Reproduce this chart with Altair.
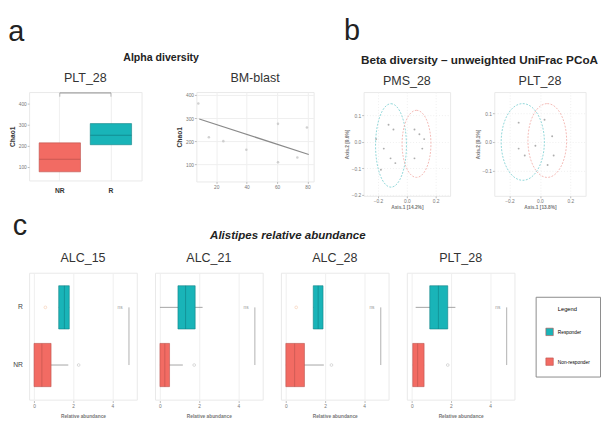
import altair as alt
import pandas as pd

FONT = "Liberation Sans"
TEAL, TEAL_D = "#19B4B8", "#0F7F83"
RED, RED_D = "#F26B63", "#B9514B"
INK = "#222222"

# ---------------- a : alpha diversity ----------------
a_groups = ["NR", "R"]
a_q1 = [77, 205]
a_med = [136, 250]
a_q3 = [214, 305]
a_bracket = [450, 432]

bm_blast = [8.3, 15.2, 24.7, 39.8, 60.6, 73.3, 79.6, 60.6]
bm_chao1 = [363, 217, 200, 163, 275, 129, 259, 108]
fit_blast = [8.9, 80.8]
fit_chao1 = [296, 142]

# ---------------- b : beta diversity (PCoA) ----------------
pms_ax1 = [-0.127, -0.093, -0.213, -0.16, -0.113, -0.08, -0.18, 0.053, 0.087, 0.12, 0.107, 0.053]
pms_ax2 = [0.065, 0.047, 0.011, -0.025, -0.062, -0.08, -0.105, 0.047, 0.029, 0.011, -0.025, -0.062]
plt_ax1 = [-0.14, 0.03, 0.08, -0.03, -0.14, -0.10, 0.09, 0.05]
plt_ax2 = [0.067, 0.077, 0.02, -0.013, -0.023, -0.047, -0.047, -0.08]
# ellipses: centre (ax1, ax2) and radii (ax1, ax2) per group
ell_pms = {"R": (-0.11, -0.013, 0.107, 0.158), "NR": (0.067, -0.007, 0.10, 0.127)}
ell_plt = {"R": (-0.113, 0.0, 0.142, 0.133), "NR": (0.048, 0.005, 0.127, 0.128)}
pms_dom_x, pms_dom_y = [-0.3, 0.3], [-0.204, 0.189]
plt_dom_x, plt_dom_y = [-0.3, 0.3], [-0.187, 0.173]

# ---------------- c : Alistipes relative abundance ----------------
c_panels = ["ALC_15", "ALC_21", "ALC_28", "PLT_28"]
r_q1 = [1.26, 0.92, 1.40, 0.92]
r_med = [1.55, 1.31, 1.65, 1.36]
r_q3 = [1.80, 1.80, 1.90, 1.84]
r_lo = [1.26, 0.0, 1.40, 0.20]
r_hi = [1.80, 2.18, 1.90, 2.23]
r_pt = [0.58, None, 0.53, None]
nr_q1 = [0.0, 0.0, 0.0, 0.05]
nr_med = [0.40, 0.25, 0.45, 0.30]
nr_q3 = [0.87, 0.49, 0.95, 0.63]
nr_lo = [0.0, 0.0, 0.0, 0.05]
nr_hi = [1.75, 1.17, 1.94, 0.63]
nr_out = [2.28, 1.75, 2.33, 1.84]
c_ticks = [0, 1, 2, 3, 4, 5]
bracket_at = 4.85
label_at = 4.4

# ======================================================
def is_r():
    return alt.datum.group == "R"

# ---- a1: box plot Chao1 ----
a1_df = pd.DataFrame({"group": a_groups, "q1": a_q1, "med": a_med, "q3": a_q3,
                      "top": [a_bracket[0]] * 2, "tick": [a_bracket[1]] * 2})
xa = alt.X("group:N", scale=alt.Scale(domain=a_groups, paddingInner=0, paddingOuter=0.1),
           axis=alt.Axis(title=None, labelAngle=0, labelFontSize=7, labelColor="#333",
                         labelFontWeight="bold", ticks=False, labelPadding=6, grid=True))
ya_scale = alt.Scale(domain=[36, 454], nice=False, zero=False)
ya_axis = alt.Axis(title="Chao1", values=[100, 200, 300, 400], titleFontSize=7,
                   titleColor="#333", titleFontWeight="bold", titlePadding=3, grid=False)
a1_base = alt.Chart(a1_df)
a1_box = a1_base.mark_bar(size=43, strokeWidth=0.6).encode(
    x=xa, y=alt.Y("q1:Q", scale=ya_scale, axis=ya_axis), y2="q3",
    color=alt.condition(is_r(), alt.value(TEAL), alt.value(RED)),
    stroke=alt.condition(is_r(), alt.value(TEAL_D), alt.value(RED_D)))
a1_med = a1_base.mark_tick(size=43, thickness=1, opacity=0.7).encode(
    x=xa, y=alt.Y("med:Q", scale=ya_scale, axis=ya_axis),
    color=alt.condition(is_r(), alt.value(TEAL_D), alt.value(RED_D)))
a1_br = a1_base.mark_rule(color="#999", strokeWidth=0.7).encode(
    x=alt.datum("NR"), x2=alt.datum("R"), y=alt.Y("top:Q", scale=ya_scale, axis=ya_axis))
a1_brt = a1_base.mark_rule(color="#999", strokeWidth=0.7).encode(
    x=xa, y=alt.Y("top:Q", scale=ya_scale, axis=ya_axis), y2="tick")
a1 = alt.layer(a1_box, a1_med, a1_br, a1_brt).properties(
    width=117, height=92,
    title=alt.TitleParams("PLT_28", fontSize=13, fontWeight="normal", color="#333", offset=7))

# ---- a2: BM-blast scatter ----
bm_df = pd.DataFrame({"blast": bm_blast, "chao1": bm_chao1})
fit_df = pd.DataFrame({"blast": fit_blast, "chao1": fit_chao1})
xb = alt.X("blast:Q", scale=alt.Scale(domain=[7, 84], nice=False, zero=False),
           axis=alt.Axis(title=None, values=[20, 40, 60, 80], grid=True))
yb = alt.Y("chao1:Q", scale=alt.Scale(domain=[25, 413], nice=False, zero=False),
           axis=alt.Axis(title="Chao1", values=[100, 200, 300, 400], titleFontSize=7,
                         titleColor="#333", titleFontWeight="bold", titlePadding=3, grid=True))
a2_pts = alt.Chart(bm_df).mark_circle(size=7, color="#bdbdbd").encode(x=xb, y=yb)
a2_fit = alt.Chart(fit_df).mark_line(color="#8a8a8a", strokeWidth=1.3).encode(x=xb, y=yb)
a2 = alt.layer(a2_pts, a2_fit).properties(
    width=122, height=93,
    title=alt.TitleParams("BM-blast", fontSize=13, fontWeight="normal", color="#333", offset=7))

PA = alt.vconcat(
    alt.hconcat(a1, a2, spacing=34,
                title=alt.TitleParams("Alpha diversity", anchor="middle", fontSize=11,
                                      fontWeight="bold", color=INK, offset=10)),
    title=alt.TitleParams("a", anchor="start", fontSize=30, fontWeight="normal",
                          color=INK, offset=6))


# ---- b: PCoA panels ----
def ellipse_shape(w, h):
    a = w / h
    k = 0.5523
    return (f"M0,-1C{k*a:.3f},-1 {a:.3f},{-k:.3f} {a:.3f},0"
            f"C{a:.3f},{k:.3f} {k*a:.3f},1 0,1"
            f"C{-k*a:.3f},1 {-a:.3f},{k:.3f} {-a:.3f},0"
            f"C{-a:.3f},{-k:.3f} {-k*a:.3f},-1 0,-1Z")


def pcoa_panel(ax1, ax2, ells, dom_x, dom_y, yvals, width, height, title, xtitle, ytitle):
    sx = alt.Scale(domain=dom_x, nice=False, zero=False)
    sy = alt.Scale(domain=dom_y, nice=False, zero=False)
    X = alt.X("ax1:Q", scale=sx, axis=alt.Axis(title=xtitle, values=[-0.2, 0.0, 0.2],
                                                 grid=True, gridDash=[1, 2], titlePadding=1))
    Y = alt.Y("ax2:Q", scale=sy, axis=alt.Axis(title=ytitle, values=yvals,
                                                 grid=True, gridDash=[1, 2], titlePadding=2))
    pts = alt.Chart(pd.DataFrame({"ax1": ax1, "ax2": ax2})).mark_circle(
        size=4, color="#8c8c8c").encode(x=X, y=Y)
    layers = []
    for grp, col in (("R", "#8fd6d9"), ("NR", "#f4b8b4")):
        cx, cy, rx, ry = ells[grp]
        wpx = 2 * rx / (dom_x[1] - dom_x[0]) * width
        hpx = 2 * ry / (dom_y[1] - dom_y[0]) * height
        layers.append(
            alt.Chart(pd.DataFrame({"ax1": [cx], "ax2": [cy]})).mark_point(
                shape=ellipse_shape(wpx, hpx), size=hpx ** 2, filled=False,
                stroke=col, strokeWidth=1, strokeDash=[2, 1.5], opacity=1
            ).encode(x=X, y=Y))
    return alt.layer(*layers, pts).properties(
        width=width, height=height,
        title=alt.TitleParams(title, fontSize=13, fontWeight="normal", color="#333", offset=4))


b1 = pcoa_panel(pms_ax1, pms_ax2, ell_pms, pms_dom_x, pms_dom_y, [-0.2, -0.1, 0.0, 0.1],
                90, 108, "PMS_28", "Axis.1 [14.2%]", "Axis.2 [9.6%]")
b2 = pcoa_panel(plt_ax1, plt_ax2, ell_plt, plt_dom_x, plt_dom_y, [-0.1, 0.0, 0.1],
                95, 108, "PLT_28", "Axis.1 [13.8%]", "Axis.2 [9.1%]")

PB = alt.vconcat(
    alt.hconcat(b1, b2, spacing=24,
                title=alt.TitleParams("Beta diversity \u2013 unweighted UniFrac PCoA",
                                      anchor="middle", fontSize=12.2, fontWeight="bold",
                                      color=INK, offset=9, dx=15)),
    title=alt.TitleParams("b", anchor="start", fontSize=30, fontWeight="normal",
                          color=INK, offset=4, dy=-6))

top = alt.hconcat(PA, PB, spacing=30)

# ---- c: Alistipes boxes, faceted ----
rows = []
for i, p in enumerate(c_panels):
    rows.append(dict(panel=p, group="R", q1=r_q1[i], med=r_med[i], q3=r_q3[i],
                     lo=r_lo[i], hi=r_hi[i], out=None, pt=r_pt[i]))
    rows.append(dict(panel=p, group="NR", q1=nr_q1[i], med=nr_med[i], q3=nr_q3[i],
                     lo=nr_lo[i], hi=nr_hi[i], out=nr_out[i], pt=None))
c_df = pd.DataFrame(rows)

ycat = alt.Y("group:N", scale=alt.Scale(domain=["R", "NR"], paddingInner=0, paddingOuter=0.1),
             axis=alt.Axis(title=None, labelFontSize=7, labelColor="#444", ticks=False,
                           labelPadding=6, grid=False))


def xenc(field):
    return alt.X(f"{field}:Q", scale=alt.Scale(domain=[-0.25, 5.25], nice=False, zero=False),
                 axis=alt.Axis(title="Relative abundance", values=c_ticks, format="d",
                               labelOverlap=False, grid=True, titlePadding=6))


cb = alt.Chart()
c_wh = cb.mark_rule(color="#8a8a8a", strokeWidth=0.8).encode(x=xenc("lo"), x2="hi", y=ycat)
c_box = cb.mark_bar(size=45, strokeWidth=0.6).encode(
    x=xenc("q1"), x2="q3", y=ycat,
    color=alt.Color("group:N", scale=alt.Scale(domain=["R", "NR"], range=[TEAL, RED]),
                    legend=alt.Legend(title="Legend", orient="none", legendX=527, legendY=213,
                                      strokeColor="#888", fillColor="white", padding=10,
                                      symbolType="square", symbolSize=60,
                                      symbolStrokeWidth=0.6, titleFontSize=6,
                                      titleFontWeight="normal", titleAnchor="middle",
                                      titlePadding=16, labelFontSize=5, rowPadding=20,
                                      labelExpr="datum.label == 'R' ? 'Responder' : 'Non-responder'")),
    stroke=alt.condition(is_r(), alt.value(TEAL_D), alt.value(RED_D)))
c_med = cb.mark_tick(size=45, thickness=1, opacity=0.6).encode(
    x=xenc("med"), y=ycat,
    color=alt.condition(is_r(), alt.value(TEAL_D), alt.value(RED_D)))
c_out = cb.mark_point(size=8, filled=False, color="#aaaaaa", strokeWidth=0.6).encode(
    x=xenc("out"), y=ycat).transform_filter("isValid(datum.out)")
c_pt = cb.mark_point(size=8, filled=False, color="#f2b48a", strokeWidth=0.6).encode(
    x=xenc("pt"), y=ycat).transform_filter("isValid(datum.pt)")
c_br = cb.mark_rule(color="#9a9a9a", strokeWidth=0.8).encode(
    x=alt.datum(bracket_at), y=alt.datum("R"), y2=alt.datum("NR")).transform_filter(is_r())
c_lab = cb.mark_text(fontSize=5, color="#999").encode(
    x=alt.datum(label_at), y=alt.datum("R"), text=alt.value("ns")).transform_filter(is_r())

c_facet = alt.layer(c_wh, c_box, c_med, c_out, c_pt, c_br, c_lab, data=c_df).properties(
    width=112, height=132
).facet(
    column=alt.Column("panel:N", sort=c_panels,
                      header=alt.Header(title=None, labelFontSize=13, labelColor="#333",
                                        labelFont=FONT, labelPadding=7)),
    spacing=17
).properties(
    title=alt.TitleParams("Alistipes relative abundance", anchor="middle", fontSize=12,
                          fontWeight="bold", fontStyle="italic", color=INK, offset=11, dx=25)
)

rowC = alt.vconcat(c_facet, title=alt.TitleParams("c", anchor="start", fontSize=30,
                                                  fontWeight="normal", color=INK, offset=-12))

chart = alt.vconcat(top, rowC, spacing=2).properties(
    padding=0
).configure(font=FONT).configure_view(
    stroke="#e8e8e8"
).configure_axis(
    labelFontSize=5, titleFontSize=5, labelColor="#777", titleColor="#777",
    domain=False, tickColor="#bbbbbb", tickSize=2, gridColor="#eeeeee", labelPadding=1
).configure_title(font=FONT)

chart.save("out.html", embed_options={"renderer": "svg", "actions": False})
